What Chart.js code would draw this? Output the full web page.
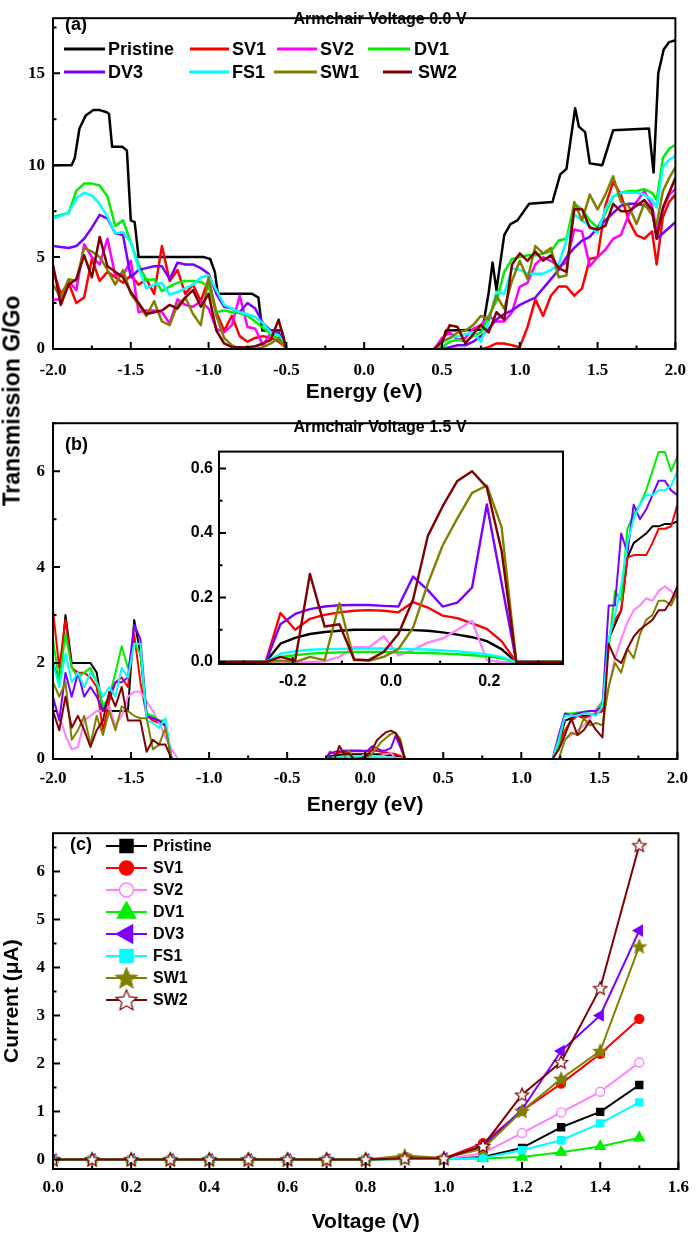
<!DOCTYPE html>
<html>
<head>
<meta charset="utf-8">
<title>Armchair transmission and current</title>
<script src="https://cdn.jsdelivr.net/npm/chart.js@4.4.0/dist/chart.umd.min.js"></script>
<style>
body { margin: 0; background: #fff; }
#page { position: relative; width: 697px; height: 1238px; overflow: hidden; }
#page canvas { position: absolute; }
#ytitle {
    position: absolute; left: 12px; top: 401px;
    transform: translate(-50%, -50%) rotate(-90deg);
    font: bold 23px "Liberation Sans"; white-space: nowrap; color: #000;
}
</style>
</head>
<body>
<div id="page">
  <canvas id="chartA" width="697" height="405" style="left:0;top:0"></canvas>
  <canvas id="chartB" width="697" height="413" style="left:0;top:405px"></canvas>
  <canvas id="chartInset" width="390" height="266" style="left:180px;top:436px"></canvas>
  <canvas id="chartC" width="697" height="423" style="left:0;top:815px"></canvas>
  <div id="ytitle">Transmission G/Go</div>
</div>
<script>
"use strict"

// == data, panel (a): transmission at 0.0 V
// left band, a gap entry (null), then right band
const energyA = [
    -2.0, -1.95, -1.9, -1.85, -1.8, -1.75, -1.7, -1.65, -1.6, -1.55, -1.5,
    -1.45, -1.4, -1.35, -1.3, -1.25, -1.2, -1.15, -1.1, -1.05, -1.0,
    -0.95, -0.9, -0.85, -0.8, -0.75, -0.7, -0.65, -0.6, -0.55, -0.5,
    0,
    0.45, 0.5, 0.55, 0.6, 0.65, 0.7, 0.75, 0.8, 0.85, 0.9, 0.95, 1.0,
    1.05, 1.1, 1.15, 1.2, 1.25, 1.3, 1.35, 1.4, 1.45, 1.5, 1.55, 1.6,
    1.65, 1.7, 1.75, 1.8, 1.85, 1.88, 1.92, 1.96, 2.0
]
// pristine is a staircase, so it keeps its own energies
const pristineAE = [
    -2, -1.88, -1.86, -1.83, -1.79, -1.74, -1.7, -1.66, -1.64, -1.62, -1.555, -1.525, -1.5,
    -1.475, -1.45, -1.03, -0.99, -0.96, -0.94, -0.72, -0.68, -0.655, -0.53, -0.52, -0.505,
    0,
    0.49, 0.525, 0.76, 0.8, 0.825, 0.85, 0.9, 0.94, 0.985, 1.06, 1.21, 1.26, 1.3,
    1.356, 1.38, 1.42, 1.45, 1.53, 1.6, 1.83, 1.86, 1.89, 1.925, 1.96, 2.0
]
const pristineA = [
    10, 10, 10.4, 12, 12.7, 13, 13, 12.9, 12.8, 11, 11, 10.8, 7,
    6.9, 5, 5, 4.9, 4.2, 3, 3, 2.8, 1, 1, 0.7, 0,
    null,
    0, 1.0, 1.05, 3.06, 4.7, 3.2, 6.2, 6.8, 7.0, 7.9, 8.0, 9.5, 9.8,
    13.1, 12.1, 11.8, 10.1, 10.0, 11.9, 12.0, 9.6, 15.0, 16.3, 16.7, 16.8
]
const sv1A = [
    4.3, 3.0, 3.6, 2.5, 2.8, 4.9, 3.7, 4.2, 3.9, 3.6, 4.0,
    3.5, 3.8, 3.0, 5.6, 3.7, 4.3, 3.0, 3.5, 2.6, 3.8,
    2.0, 1.0, 1.8, 0.7, 0.4, 0.6, 0.7, 0.6, 0.4, 0.05,
    null,
    0, 0, 0, 0, 0, 0, 0, 0.1, 0.3, 0.3, 0.2, 0.1,
    1.2, 2.7, 1.8, 2.9, 3.4, 3.4, 2.9, 3.3, 4.9, 5.0, 7.8, 9.1,
    8.4, 7.0, 6.2, 6.0, 6.4, 4.6, 7.2, 8.0, 8.4
]
const sv2A = [
    2.7, 2.7, 3.7, 3.2, 5.7, 5.0, 4.6, 6.0, 4.0, 4.0, 4.8,
    2.0, 2.1, 2.1, 2.0, 1.4, 2.7, 2.4, 2.3, 2.6, 2.2,
    1.1, 0.9, 1.3, 2.9, 1.2, 1.1, 0.2, 0.9, 0.9, 0.1,
    null,
    0, 0.6, 0.9, 0.5, 0.6, 1.1, 1.3, 1.8, 1.5, 1.5, 2.0, 3.4,
    3.6, 4.6, 5.0, 4.8, 4.5, 4.7, 6.5, 6.4, 4.5, 5.0, 5.4, 6.0,
    6.2, 7.3, 8.0, 8.6, 7.8, 6.4, 7.6, 8.4, 8.7
]
const dv1A = [
    7.2, 7.3, 7.4, 8.6, 9.0, 9.0, 8.9, 8.3, 6.7, 7.0, 5.8,
    4.6, 3.75, 3.8, 3.15, 3.4, 3.6, 3.7, 3.7, 3.65, 3.4,
    2.0, 2.1, 2.0, 1.95, 1.8, 1.5, 1.15, 0.8, 0.55, 0.03,
    null,
    0, 0.1, 0.4, 0.5, 0.4, 0.7, 0.9, 1.8, 2.6, 4.2, 4.9, 5.0,
    5.1, 5.1, 5.2, 5.3, 5.9, 6.0, 7.9, 7.6, 7.0, 6.6, 7.4, 8.3,
    8.5, 8.6, 8.6, 8.7, 8.5, 8.1, 10.4, 10.9, 11.1
]
const dv3A = [
    5.6, 5.55, 5.5, 5.6, 6.0, 6.6, 7.3, 7.1, 6.3, 6.2, 3.9,
    4.3, 4.4, 4.5, 4.5, 3.8, 4.7, 4.6, 4.6, 4.4, 4.1,
    3.0, 2.3, 2.2, 2.0, 2.5, 2.2, 1.4, 1.0, 0.9, 0.1,
    null,
    0, 0, 0.1, 0.2, 0.2, 0.4, 0.7, 1.1, 1.6, 1.9, 2.1, 2.4,
    2.6, 2.8, 3.3, 3.8, 4.3, 5.0, 5.5, 5.9, 6.1, 6.6, 7.0, 7.4,
    7.8, 7.9, 7.9, 7.8, 7.6, 6.0, 6.3, 6.6, 6.9
]
const fs1A = [
    7.1, 7.25, 7.4, 8.2, 8.5, 8.35, 7.9, 7.2, 6.3, 6.35, 5.8,
    4.4, 3.3, 3.5, 3.6, 2.95, 3.1, 3.3, 3.5, 3.9, 4.0,
    3.2, 2.4, 2.2, 2.0, 1.9, 1.75, 1.4, 0.9, 0.75, 0.1,
    null,
    0, 0.3, 0.6, 0.7, 0.8, 0.9, 0.4, 1.5, 3.1, 3.0, 4.4, 4.3,
    4.1, 4.1, 4.1, 4.3, 4.6, 5.9, 7.3, 7.0, 6.7, 6.3, 7.6, 8.3,
    8.5, 8.5, 8.5, 8.4, 8.1, 7.7, 9.9, 10.3, 10.5
]
const sw1A = [
    3.5, 2.8, 3.8, 3.7, 5.5, 5.3, 5.0, 4.3, 3.5, 4.3, 3.0,
    2.4, 1.8, 2.6, 1.5, 1.3, 2.4, 2.8, 1.9, 1.3, 3.9,
    1.8, 0.6, 0.2, 0.0, 0.0, 0.0, 0.1, 0.3, 0.6, 0,
    null,
    0, 0.4, 0.6, 0.9, 1.0, 1.3, 1.8, 1.6, 2.9, 2.2, 3.7, 4.8,
    3.8, 5.6, 5.2, 5.5, 3.9, 4.0, 8.0, 7.0, 8.4, 7.6, 8.4, 9.4,
    8.0, 7.8, 6.8, 7.9, 7.3, 6.8, 8.6, 9.3, 9.9
]
const sw2A = [
    4.6, 2.4, 3.5, 3.8, 5.1, 3.9, 6.1, 4.5, 4.2, 3.9, 3.1,
    2.5, 1.9, 2.0, 2.1, 2.4, 2.2, 2.8, 3.2, 2.3, 3.0,
    1.0, 0.3, 0.1, 0.1, 0.1, 0.15, 0.3, 0.5, 1.6, 0,
    null,
    0, 0.4, 1.3, 1.2, 0.3, 0.8, 1.3, 0.9, 2.0, 1.6, 4.6, 5.2,
    4.8, 5.3, 4.8, 5.1, 4.4, 4.2, 7.6, 7.6, 6.6, 6.5, 6.7, 7.9,
    7.5, 7.5, 7.8, 8.1, 7.6, 6.0, 7.7, 8.5, 9.3
]

// == data, inset of panel (b): window around the Fermi level at 1.5 V
const insetE = [
    -0.35, -0.255, -0.225, -0.195, -0.165, -0.135, -0.105, -0.075, -0.045, -0.015,
    0.015, 0.045, 0.075, 0.105, 0.135, 0.165, 0.195, 0.225, 0.255, 0.35
]
const pristineI = [0, 0, 0.057, 0.075, 0.087, 0.093, 0.097, 0.1, 0.1, 0.1, 0.1, 0.099, 0.097, 0.092, 0.085, 0.077, 0.065, 0.04, 0, 0]
const sv1I = [0, 0, 0.152, 0.1, 0.134, 0.146, 0.154, 0.159, 0.161, 0.159, 0.154, 0.186, 0.169, 0.144, 0.136, 0.12, 0.103, 0.065, 0, 0]
const sv2I = [0, 0, 0.002, 0, 0, 0.002, 0.016, 0.047, 0.045, 0.08, 0.021, 0.038, 0.06, 0.073, 0.1, 0.127, 0.006, 0, 0, 0]
const dv1I = [0, 0, 0.016, 0.021, 0.026, 0.028, 0.03, 0.031, 0.031, 0.031, 0.03, 0.029, 0.028, 0.026, 0.024, 0.021, 0.018, 0.012, 0, 0]
const dv3I = [0, 0, 0.117, 0.149, 0.164, 0.172, 0.176, 0.177, 0.177, 0.174, 0.172, 0.265, 0.223, 0.172, 0.184, 0.231, 0.488, 0.245, 0, 0]
const fs1I = [0, 0, 0.026, 0.034, 0.038, 0.04, 0.041, 0.042, 0.042, 0.042, 0.041, 0.04, 0.039, 0.036, 0.033, 0.029, 0.024, 0.016, 0, 0]
const sw1I = [0, 0, 0.004, 0, 0.016, 0.006, 0.182, 0.006, 0.004, 0.016, 0.04, 0.107, 0.243, 0.361, 0.445, 0.524, 0.547, 0.419, 0, 0]
const sw2I = [0, 0, 0.016, 0.004, 0.273, 0.11, 0.117, 0.008, 0.006, 0.031, 0.087, 0.194, 0.391, 0.482, 0.561, 0.591, 0.541, 0.345, 0, 0]

// == data, panel (b): transmission at 1.5 V, outer bands
const energyBLeft = [-2.0, -1.96, -1.92, -1.88, -1.84, -1.8, -1.76, -1.72, -1.68, -1.64, -1.6,
    -1.56, -1.52, -1.48, -1.44, -1.4, -1.36, -1.32, -1.28, -1.24, -1.2]
const energyBRight = [1.2, 1.24, 1.28, 1.32, 1.36, 1.4, 1.44, 1.48, 1.52, 1.56, 1.6,
    1.64, 1.68, 1.72, 1.76, 1.8, 1.84, 1.88, 1.92, 1.96, 2.0]
const pristineBL = [2.0, 1.6, 3.0, 2.0, 2.0, 2.0, 2.0, 1.8, 1.0, 1.0, 1.0, 1.0, 1.0, 2.9, 2.2, 0.9, 0.85, 0.8, 0.7, 0, null]
const sv1BL = [3.1, 1.9, 2.9, 1.9, 1.8, 1.8, 1.7, 1.5, 0.6, 1.2, 1.6, 1.7, 1.5, 2.6, 1.6, 0.9, 0.8, 0.75, 0.7, 0, null]
const sv2BL = [1.2, 0.9, 0.5, 0.2, 0.25, 0.8, 0.9, 1.0, 1.0, 1.1, 0.7, 0.9, 1.3, 1.4, 1.4, 1.2, 1.0, 0.75, 0.45, 0.2, 0]
const dv1BL = [2.5, 1.6, 2.6, 1.9, 1.7, 1.8, 1.9, 1.6, 1.1, 1.3, 1.8, 2.35, 1.9, 2.4, 2.2, 0.95, 0.9, 0.8, 0.8, 0, null]
const dv3BL = [1.3, 0.8, 1.8, 1.3, 1.8, 1.3, 1.5, 1.3, 1.0, 1.3, 1.6, 1.6, 1.7, 2.8, 2.5, 0.9, 0.85, 0.8, 0.7, 0, null]
const fs1BL = [2.0, 1.5, 2.2, 1.6, 1.8, 1.5, 1.8, 1.6, 1.3, 1.5, 1.3, 1.9, 1.7, 2.4, 2.4, 0.8, 0.75, 0.65, 0.85, 0, null]
const sw1BL = [1.6, 1.3, 1.6, 0.4, 0.6, 0.9, 0.3, 0.9, 0.5, 1.0, 0.6, 1.1, 1.0, 0.9, 0.85, 0.85, 0.2, 0.3, 0.65, 0, null]
const sw2BL = [1.0, 0.6, 1.3, 0.65, 0.9, 0.6, 0.25, 0.6, 0.8, 1.4, 1.1, 1.5, 0.8, 0.8, 0.8, 0.15, 0.4, 0.3, 0.3, 0, null]
const pristineBR = [0, 0.3, 0.8, 0.85, 0.9, 0.9, 0.9, 0.95, 1.0, 2.5, 2.8, 3.1, 4.2, 4.5, 4.6, 4.7, 4.85, 4.85, 4.9, 4.9, 4.95]
const sv1BR = [0, 0.3, 0.6, 0.8, 0.9, 0.85, 0.9, 0.95, 1.0, 2.5, 2.9, 3.1, 4.2, 4.25, 4.25, 4.25, 4.5, 4.8, 4.8, 4.85, 5.3]
const sv2BR = [0, 0.2, 0.4, 0.5, 0.6, 0.7, 0.85, 1.05, 1.2, 1.5, 2.1, 2.5, 2.85, 3.1, 3.2, 3.35, 3.3, 3.5, 3.6, 3.5, 3.35]
const dv1BR = [0, 0.3, 0.95, 0.95, 0.97, 0.98, 1.0, 1.0, 1.2, 2.3, 3.5, 3.3, 4.8, 5.1, 5.3, 5.6, 6.0, 6.4, 6.4, 6.0, 6.3]
const dv3BR = [0, 0.5, 0.95, 0.9, 0.95, 0.98, 1.0, 1.0, 1.1, 3.2, 3.2, 4.7, 4.3, 5.3, 5.0, 5.2, 5.5, 5.8, 5.8, 5.6, 5.5]
const fs1BR = [0, 0.4, 0.9, 0.9, 0.9, 0.95, 0.95, 0.9, 1.1, 2.5, 3.0, 3.6, 4.5, 5.0, 5.3, 5.5, 5.5, 5.6, 5.6, 5.7, 6.0]
const sw1BR = [0, 0, 0.4, 0.55, 0.5, 0.85, 0.7, 0.75, 0.7, 1.5, 2.0, 1.8, 2.3, 2.1, 2.6, 2.9, 3.0, 3.3, 3.3, 3.2, 3.5]
const sw2BR = [0, 0.2, 0.5, 0.85, 0.5, 0.6, 0.8, 0.6, 0.45, 2.4, 2.1, 2.0, 2.3, 2.55, 2.7, 2.8, 2.9, 3.1, 3.1, 3.3, 3.6]

// == data, panel (c): current vs bias
const voltage = [0, 0.1, 0.2, 0.3, 0.4, 0.5, 0.6, 0.7, 0.8, 0.9, 1.0, 1.1, 1.2, 1.3, 1.4, 1.5]
const currentPristine = [0, 0, 0, 0, 0, 0, 0, 0, 0, 0.01, 0.01, 0.05, 0.24, 0.67, 0.99, 1.55]
const currentSV1 = [0, 0, 0, 0, 0, 0, 0, 0, 0, 0.02, 0.02, 0.34, 1.01, 1.58, 2.2, 2.93]
const currentSV2 = [0, 0, 0, 0, 0, 0, 0, 0, 0, 0.02, 0.01, 0.13, 0.55, 0.98, 1.41, 2.02]
const currentDV1 = [0, 0, 0, 0, 0, 0, 0, 0, 0, 0.01, 0.01, 0.02, 0.05, 0.15, 0.27, 0.45]
const currentDV3 = [0, 0, 0, 0, 0, 0, 0, 0, 0, 0.03, 0.02, 0.27, 1.04, 2.26, 3.0, 4.77]
const currentFS1 = [0, 0, 0, 0, 0, 0, 0, 0, 0, 0.01, 0.01, 0.03, 0.19, 0.4, 0.75, 1.19]
const currentSW1 = [0, 0, 0, 0, 0, 0, 0, 0, 0, 0.08, 0.03, 0.22, 1.01, 1.68, 2.26, 4.44]
const currentSW2 = [0, 0, 0, 0, 0, 0, 0, 0, 0, 0.02, 0.02, 0.28, 1.35, 2.03, 3.57, 6.55]

// == tick labels
const ticksEnergy = [-2, -1.5, -1, -0.5, 0, 0.5, 1, 1.5, 2]
const ticksTransA = [0, 5, 10, 15]
const ticksTransB = [0, 2, 4, 6]
const ticksInsetE = [-0.2, 0, 0.2]
const ticksInsetT = [0, 0.2, 0.4, 0.6]
const ticksVoltage = [0, 0.2, 0.4, 0.6, 0.8, 1.0, 1.2, 1.4, 1.6]
const ticksCurrent = [0, 1, 2, 3, 4, 5, 6]

const names = ["Pristine", "SV1", "SV2", "DV1", "DV3", "FS1", "SW1", "SW2"]


// == styles
const SANS = "Liberation Sans"
const SERIF = "Liberation Serif"
const colA = ["#000000", "#ff0000", "#ff00ff", "#00ee00", "#7b00ff", "#00ffff", "#808000", "#800000"]
const colB = ["#000000", "#ff0000", "#ff80ff", "#00ee00", "#7b00ff", "#00ffff", "#808000", "#800000"]


function Points(xs, ys) {
    return xs.map((x, i) => ({x: x, y: ys[i]}))
}

// outer bands plus the inset window, with gaps in between
function JoinB(left, inset, right) {
    return [...left, null, ...inset.slice(1, -1), null, ...right]
}
const energyB = [...energyBLeft, -0.6, ...insetE.slice(1, -1), 0.6, ...energyBRight]


function StarImage(r, fill, stroke) {
    let c = document.createElement("canvas")
    let s = Math.ceil(r * 2 + 4)
    c.width = s
    c.height = s
    let g = c.getContext("2d")
    g.beginPath()
    for (let i = 0; i < 10; i++) {
        let rad = i % 2 ? r * 0.45 : r
        let ang = -Math.PI / 2 + i * Math.PI / 5
        g.lineTo(s / 2 + rad * Math.cos(ang), s / 2 + rad * Math.sin(ang) + r * 0.08)
    }
    g.closePath()
    g.fillStyle = fill
    g.fill()
    g.lineWidth = 1.2
    g.strokeStyle = stroke
    g.stroke()
    return c
}


function DrawMarker(ctx, m, x, y) {
    if (m.image) {
        ctx.drawImage(m.image, x - m.image.width / 2, y - m.image.height / 2)
        return
    }
    let r = m.r
    ctx.save()
    ctx.translate(x, y)
    ctx.rotate((m.rot || 0) * Math.PI / 180)
    ctx.beginPath()
    if (m.style === "rect") {
        ctx.rect(-r * 0.72, -r * 0.72, r * 1.44, r * 1.44)
    } else if (m.style === "circle") {
        ctx.arc(0, 0, r, 0, 2 * Math.PI)
    } else {
        ctx.moveTo(0, -r)
        ctx.lineTo(r * 0.9, r * 0.6)
        ctx.lineTo(-r * 0.9, r * 0.6)
        ctx.closePath()
    }
    ctx.fillStyle = m.fill
    ctx.fill()
    ctx.lineWidth = 1.5
    ctx.strokeStyle = m.stroke
    ctx.stroke()
    ctx.restore()
}


function EachTick(min, max, minor, major, fn) {
    let i0 = Math.ceil(min / minor - 1e-6)
    let i1 = Math.floor(max / minor + 1e-6)
    for (let i = i0; i <= i1; i++) {
        let v = i * minor
        let r = v / major
        fn(v, Math.abs(r - Math.round(r)) < 1e-6)
    }
}

// box round the plot and ticks pointing inwards
const frameTicks = {
    id: "frameTicks",
    afterDatasetsDraw(chart, args, o) {
        let ctx = chart.ctx
        let a = chart.chartArea
        let sx = chart.scales.x
        let sy = chart.scales.y
        ctx.save()
        ctx.strokeStyle = "#000"
        ctx.lineWidth = 2
        ctx.beginPath()
        EachTick(sx.min, sx.max, o.xMinor, o.xMajor, (v, major) => {
            let p = sx.getPixelForValue(v)
            ctx.moveTo(p, a.bottom)
            ctx.lineTo(p, a.bottom - (major ? 7 : 3.5))
        })
        EachTick(sy.min, sy.max, o.yMinor, o.yMajor, (v, major) => {
            let p = sy.getPixelForValue(v)
            ctx.moveTo(a.left, p)
            ctx.lineTo(a.left + (major ? 7 : 3.5), p)
        })
        ctx.stroke()
        ctx.strokeRect(a.left, a.top, a.right - a.left, a.bottom - a.top)
        ctx.restore()
    }
}

// panel letters, titles and the hand placed legends
const notes = {
    id: "notes",
    afterDraw(chart, args, o) {
        let ctx = chart.ctx
        ctx.save()
        ctx.textBaseline = "middle"
        for (const t of o.texts || []) {
            ctx.font = t.font
            ctx.fillStyle = "#000"
            ctx.textAlign = t.align || "left"
            ctx.fillText(t.text, t.x, t.y)
        }
        for (const e of o.legend || []) {
            let ds = chart.data.datasets[e.i]
            ctx.strokeStyle = ds.borderColor
            ctx.lineWidth = o.legendLine
            ctx.beginPath()
            ctx.moveTo(e.x0, e.y)
            ctx.lineTo(e.x1, e.y)
            ctx.stroke()
            if (ds.legendMarker) DrawMarker(ctx, ds.legendMarker, (e.x0 + e.x1) / 2, e.y)
            ctx.font = o.legendFont
            ctx.fillStyle = "#000"
            ctx.textAlign = "left"
            ctx.fillText(ds.label, e.tx, e.y + 1)
        }
        ctx.restore()
    }
}


function Axis(o) {
    return {
        type: "linear",
        min: o.min,
        max: o.max,
        grid: {display: false, drawTicks: false},
        border: {display: false},
        afterBuildTicks: s => { s.ticks = o.ticks.map(v => ({value: v})) },
        afterFit: s => {
            if (o.horizontal) s.height = o.size
            else s.width = o.size
        },
        ticks: {
            autoSkip: false,
            maxRotation: 0,
            padding: o.pad,
            color: "#000",
            font: {family: o.family || SERIF, weight: "bold", size: o.fontSize || 17},
            callback: v => Number(v).toFixed(o.digits)
        },
        title: {
            display: !!o.title,
            text: o.title || "",
            color: "#000",
            font: {family: SANS, weight: "bold", size: 21},
            padding: {top: 0, bottom: o.titlePad || 0}
        }
    }
}


function LineSet(label, points, color, width, i) {
    return {
        label: label,
        data: points,
        borderColor: color,
        backgroundColor: color,
        borderWidth: width,
        borderJoinStyle: "round",
        pointRadius: 0,
        fill: false,
        spanGaps: false,
        order: -i
    }
}


function MakeChart(id, datasets, scales, padding, pluginOpts) {
    return new Chart(document.getElementById(id), {
        type: "line",
        data: {datasets: datasets},
        options: {
            responsive: false,
            animation: false,
            devicePixelRatio: 1,
            layout: {padding: padding},
            elements: {line: {tension: 0}},
            plugins: Object.assign({legend: {display: false}, tooltip: {enabled: false}}, pluginOpts),
            scales: scales
        },
        plugins: [frameTicks, notes]
    })
}


// == panel (a)
function DrawPanelA() {
    let series = [pristineA, sv1A, sv2A, dv1A, dv3A, fs1A, sw1A, sw2A]
    let sets = series.map((ys, i) =>
        LineSet(names[i], Points(i === 0 ? pristineAE : energyA, ys), colA[i], 2.5, i))
    let legendFont = "bold 18px '" + SANS + "'"
    MakeChart("chartA", sets, {
        x: Axis({min: -2, max: 2, ticks: ticksEnergy, digits: 1, pad: 11, horizontal: true, size: 56, title: "Energy (eV)"}),
        y: Axis({min: 0, max: 18, ticks: ticksTransA, digits: 0, pad: 8, size: 53})
    }, {top: 3, right: 15, left: 0, bottom: 0}, {
        frameTicks: {xMinor: 0.25, xMajor: 0.5, yMinor: 2.5, yMajor: 5},
        notes: {
            texts: [
                {text: "(a)", x: 65, y: 25, font: "bold 18px '" + SANS + "'"},
                {text: "Armchair Voltage 0.0 V", x: 380, y: 20, align: "center", font: "bold 16px '" + SANS + "'"}
            ],
            legendFont: legendFont,
            legendLine: 3,
            legend: [
                {i: 0, x0: 64, x1: 105, tx: 108, y: 49},
                {i: 1, x0: 190, x1: 229, tx: 232, y: 49},
                {i: 2, x0: 277, x1: 317, tx: 320, y: 49},
                {i: 3, x0: 368, x1: 410, tx: 414, y: 49},
                {i: 4, x0: 64, x1: 105, tx: 108, y: 72},
                {i: 5, x0: 189, x1: 229, tx: 232, y: 72},
                {i: 6, x0: 274, x1: 317, tx: 320, y: 72},
                {i: 7, x0: 383, x1: 412, tx: 418, y: 72}
            ]
        }
    })
}


// == panel (b) and its inset
function DrawPanelB() {
    let left = [pristineBL, sv1BL, sv2BL, dv1BL, dv3BL, fs1BL, sw1BL, sw2BL]
    let mid = [pristineI, sv1I, sv2I, dv1I, dv3I, fs1I, sw1I, sw2I]
    let right = [pristineBR, sv1BR, sv2BR, dv1BR, dv3BR, fs1BR, sw1BR, sw2BR]
    let sets = left.map((l, i) =>
        LineSet(names[i], Points(energyB, JoinB(l, mid[i], right[i])), colB[i], 2, i))
    MakeChart("chartB", sets, {
        x: Axis({min: -2, max: 2, ticks: ticksEnergy, digits: 1, pad: 9, horizontal: true, size: 59, title: "Energy (eV)"}),
        y: Axis({min: 0, max: 7, ticks: ticksTransB, digits: 0, pad: 8, size: 53})
    }, {top: 7, right: 15, left: 0, bottom: 0}, {
        frameTicks: {xMinor: 0.25, xMajor: 0.5, yMinor: 1, yMajor: 2},
        notes: {
            texts: [
                {text: "(b)", x: 65, y: 40, font: "bold 18px '" + SANS + "'"},
                {text: "Armchair Voltage 1.5 V", x: 380, y: 23, align: "center", font: "bold 16px '" + SANS + "'"}
            ]
        }
    })

    let insetSets = mid.map((ys, i) => LineSet(names[i], Points(insetE, ys), colB[i], 2.4, i))
    MakeChart("chartInset", insetSets, {
        x: Axis({min: -0.35, max: 0.35, ticks: ticksInsetE, digits: 1, pad: 8, horizontal: true, size: 38, family: SANS, fontSize: 16}),
        y: Axis({min: -0.006, max: 0.652, ticks: ticksInsetT, digits: 1, pad: 6, size: 39, family: SANS, fontSize: 16})
    }, {top: 6, right: 7, left: 0, bottom: 0}, {
        frameTicks: {xMinor: 0.1, xMajor: 0.2, yMinor: 0.1, yMajor: 0.2},
        notes: {}
    })
}


// == panel (c)
function DrawPanelC() {
    let starFill = StarImage(7, "#808000", "#808000")
    let starOpen = StarImage(7, "#ffffff", "#800000")
    let starFillBig = StarImage(11, "#808000", "#808000")
    let starOpenBig = StarImage(11, "#ffffff", "#800000")
    let series = [currentPristine, currentSV1, currentSV2, currentDV1, currentDV3, currentFS1, currentSW1, currentSW2]
    let marks = [
        {style: "rect", r: 5, fill: colB[0], legend: {style: "rect", r: 9, fill: colB[0], stroke: colB[0]}},
        {style: "circle", r: 4.5, fill: colB[1], legend: {style: "circle", r: 7, fill: colB[1], stroke: colB[1]}},
        {style: "circle", r: 4.5, fill: "#ffffff", legend: {style: "circle", r: 7, fill: "#ffffff", stroke: colB[2]}},
        {style: "triangle", r: 6, fill: colB[3], legend: {style: "triangle", r: 10, fill: colB[3], stroke: colB[3]}},
        {style: "triangle", r: 6, rot: -90, fill: colB[4], legend: {style: "triangle", r: 10, rot: -90, fill: colB[4], stroke: colB[4]}},
        {style: "rect", r: 5, fill: colB[5], legend: {style: "rect", r: 9, fill: colB[5], stroke: colB[5]}},
        {style: starFill, r: 7, fill: colB[6], legend: {image: starFillBig}},
        {style: starOpen, r: 7, fill: "#ffffff", legend: {image: starOpenBig}}
    ]
    let sets = series.map((ys, i) => {
        let d = LineSet(names[i], Points(voltage, ys), colB[i], 2, i)
        d.pointStyle = marks[i].style
        d.pointRadius = marks[i].r
        d.pointRotation = marks[i].rot || 0
        d.pointBackgroundColor = marks[i].fill
        d.pointBorderColor = colB[i]
        d.pointBorderWidth = 1.3
        d.legendMarker = marks[i].legend
        return d
    })
    let legend = names.map((n, i) => ({i: i, x0: 106, x1: 147, tx: 153, y: 31 + 22 * i}))
    MakeChart("chartC", sets, {
        x: Axis({min: 0, max: 1.6, ticks: ticksVoltage, digits: 1, pad: 8, horizontal: true, size: 69, title: "Voltage (V)", titlePad: 3}),
        y: Axis({min: -0.2, max: 6.8, ticks: ticksCurrent, digits: 0, pad: 8, size: 53, title: "Current (\u03bcA)"})
    }, {top: 8, right: 15, left: 0, bottom: 0}, {
        frameTicks: {xMinor: 0.1, xMajor: 0.2, yMinor: 0.5, yMajor: 1},
        notes: {
            texts: [{text: "(c)", x: 70, y: 30, font: "bold 18px '" + SANS + "'"}],
            legendFont: "bold 16px '" + SANS + "'",
            legendLine: 2,
            legend: legend
        }
    })
}


DrawPanelA()
DrawPanelB()
DrawPanelC()
</script>
</body>
</html>
